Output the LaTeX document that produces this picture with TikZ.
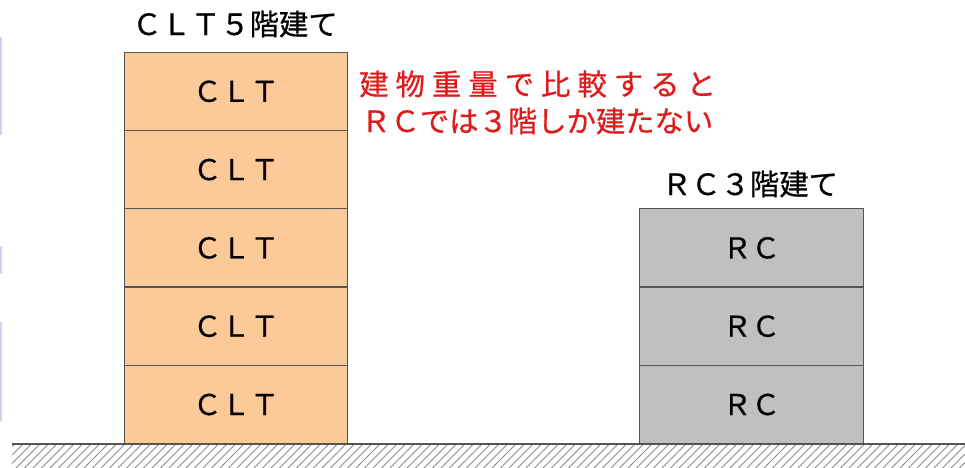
\documentclass[tikz,border=0pt]{standalone}
\usepackage{fontspec}
\setmainfont{Noto Sans CJK JP}[FakeBold=0.6]
\definecolor{clt}{RGB}{252,202,152}
\definecolor{rcg}{RGB}{192,192,192}
\definecolor{edge}{RGB}{85,85,85}
\definecolor{redtxt}{RGB}{222,28,28}
\definecolor{lav}{RGB}{222,206,236}
\begin{document}
\begin{tikzpicture}[x=0.75pt,y=-0.75pt,
  floor/.style={draw=edge,line width=0.9pt,minimum width=167.5pt,minimum height=58.7pt,inner sep=0pt,font=\fontsize{21.5}{24}\selectfont},
  cltbox/.style={floor,fill=clt},
  rcbox/.style={floor,fill=rcg},
  ttl/.style={font=\fontsize{22}{24}\selectfont,inner sep=0pt},
  redt/.style={font=\fontsize{22}{24}\selectfont,text=redtxt,inner sep=0pt,anchor=west}]
\useasboundingbox (0,0) rectangle (965,468);
\fill[white] (0,0) rectangle (965,468);
% faint marks at left edge
\fill[lav] (0,37) rectangle (1.8,135);
\fill[lav] (0,246) rectangle (1.8,274);
\fill[lav] (0,322) rectangle (1.8,421);
% ground hatching
\begin{scope}
\clip (12,444) rectangle (965,468);
\foreach \i in {-20,-11.5,...,980} \draw[gray!90,line width=0.6pt] (\i,470) -- (\i+28,442);
\end{scope}
% CLT stack
\node[cltbox] (c1) at (236,404.5) {ＣＬＴ};
\node[cltbox] (c2) at (236,326.2) {ＣＬＴ};
\node[cltbox] (c3) at (236,247.9) {ＣＬＴ};
\node[cltbox] (c4) at (236,169.6) {ＣＬＴ};
\node[cltbox] (c5) at (236,91.3) {ＣＬＴ};
% RC stack
\node[rcbox] (r1) at (751.5,404.5) {ＲＣ};
\node[rcbox] (r2) at (751.5,326.2) {ＲＣ};
\node[rcbox] (r3) at (751.5,247.9) {ＲＣ};
% ground line
\draw[edge,line width=1.5pt] (12,444) -- (965,444);
% titles
\node[ttl] (t1) at (235,24) {ＣＬＴ５階建て};
\node[ttl] (t2) at (750,184) {ＲＣ３階建て};
\node[redt] (m1) at (359,84) {\addfontfeature{LetterSpace=24}建物重量で比較すると};
\node[redt] (m2) at (361,121) {ＲＣでは３階しか建たない};
\end{tikzpicture}
\end{document}
